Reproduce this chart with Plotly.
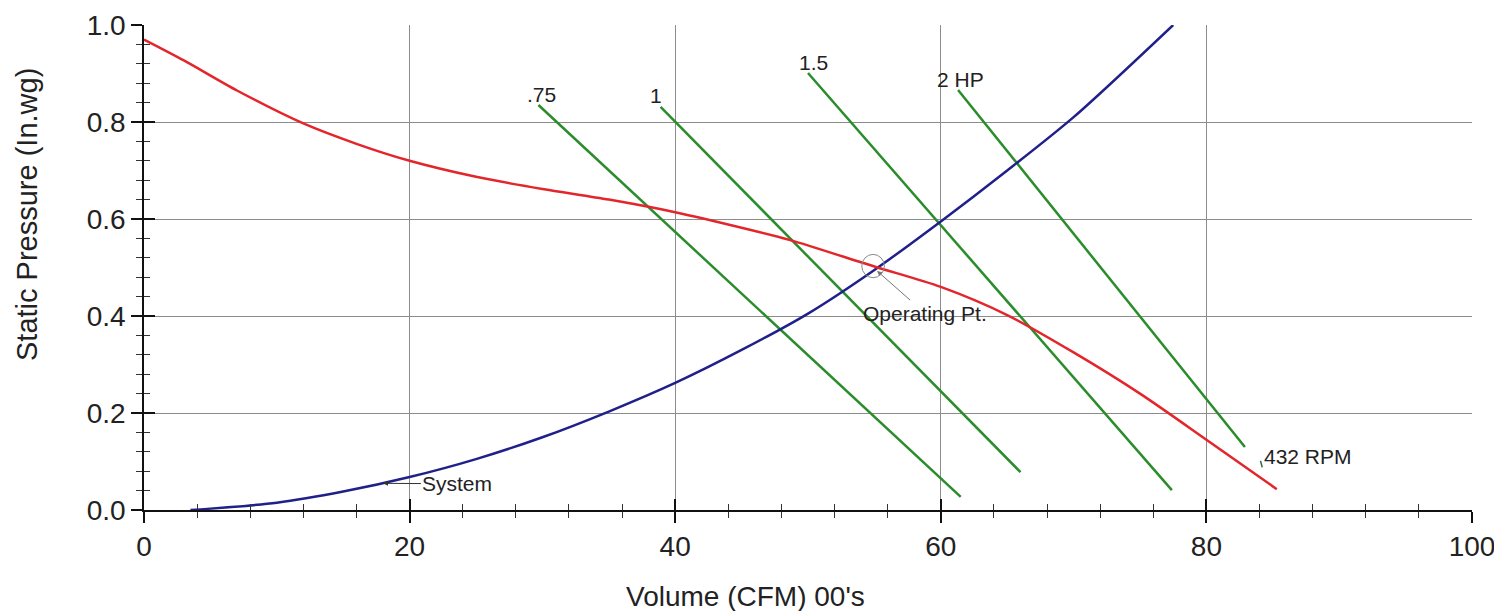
import plotly.graph_objects as go

# Fan curve (432 RPM)
fan_x = [0, 3, 7, 12, 16, 20, 25, 30, 35, 40, 45, 48.6, 55, 60, 65, 70, 75, 80, 85.3]
fan_y = [0.970, 0.927, 0.865, 0.797, 0.755, 0.720, 0.687, 0.662, 0.640, 0.614, 0.582, 0.557, 0.502, 0.460, 0.402, 0.325, 0.240, 0.145, 0.043]

# System curve
sys_x = [3.5, 10, 15, 20, 25, 30, 35, 40, 45, 50, 55, 60, 65, 70, 77.5]
sys_y = [0.0, 0.015, 0.038, 0.068, 0.105, 0.150, 0.203, 0.262, 0.330, 0.405, 0.495, 0.595, 0.700, 0.810, 1.0]

# Horsepower lines
hp_labels = [".75", "1", "1.5", "2 HP"]
hp_x0 = [29.7, 38.9, 50.0, 61.3]
hp_y0 = [0.835, 0.831, 0.901, 0.866]
hp_x1 = [61.5, 66.0, 77.4, 82.9]
hp_y1 = [0.027, 0.078, 0.041, 0.130]
hp_label_x = [29.9, 38.55, 50.45, 61.45]
hp_label_y = [0.856, 0.854, 0.922, 0.887]

op_x, op_y = 54.9, 0.503

x_ticks = [0, 20, 40, 60, 80, 100]
y_ticks = [0.0, 0.2, 0.4, 0.6, 0.8, 1.0]

RED = "#e3262b"
BLUE = "#20208a"
GREEN = "#2a8c2a"
FONT = "Liberation Sans, Arial, sans-serif"

fig = go.Figure()

for i in range(len(hp_labels)):
    fig.add_trace(go.Scatter(x=[hp_x0[i], hp_x1[i]], y=[hp_y0[i], hp_y1[i]],
                             mode="lines", line=dict(color=GREEN, width=2.5),
                             hoverinfo="skip", showlegend=False))

fig.add_trace(go.Scatter(x=sys_x, y=sys_y, mode="lines",
                         line=dict(color=BLUE, width=2.5, shape="spline", smoothing=0.8),
                         showlegend=False))
fig.add_trace(go.Scatter(x=fan_x, y=fan_y, mode="lines",
                         line=dict(color=RED, width=2.5, shape="spline", smoothing=0.8),
                         showlegend=False))

# invisible trace for overlay axes (inside ticks)
fig.add_trace(go.Scatter(x=[0], y=[0], xaxis="x2", yaxis="y2", mode="markers",
                         marker=dict(opacity=0), hoverinfo="skip", showlegend=False))

LBL = dict(size=21, color="#222", family=FONT)
annotations = []
for i in range(len(hp_labels)):
    annotations.append(dict(x=hp_label_x[i], y=hp_label_y[i], text=hp_labels[i],
                            showarrow=False, font=LBL))

annotations.append(dict(x=op_x + 0.3, y=op_y - 0.01, ax=58.8, ay=0.406, axref="x", ayref="y",
                        text="Operating Pt.", showarrow=True, arrowhead=2, arrowsize=1,
                        arrowwidth=1, arrowcolor="#777", font=LBL))
annotations.append(dict(x=18.0, y=0.055, ax=23.6, ay=0.054, axref="x", ayref="y",
                        text="System", showarrow=True, arrowhead=2, arrowsize=1,
                        arrowwidth=1, arrowcolor="#333", font=LBL))
annotations.append(dict(x=87.65, y=0.111, text="432 RPM", showarrow=False, font=LBL))
annotations.append(dict(x=84.2, y=0.088, ax=-2, ay=-8, text="", showarrow=True,
                        arrowhead=0, arrowwidth=1.5, arrowcolor="#2a6a3a"))

annotations.append(dict(x=(745 - 144) / 1328, y=(510 - 614) / 485, xref="paper", yref="paper",
                        text="Volume (CFM) 00's", showarrow=False,
                        font=dict(size=28, color="#222", family=FONT)))
annotations.append(dict(x=(9 - 144) / 1328, y=(510 - 215) / 485, xref="paper", yref="paper",
                        text="Static Pressure (In.wg)", showarrow=False, textangle=-90,
                        font=dict(size=29, color="#222", family=FONT)))

fig.update_layout(
    width=1494, height=603,
    margin=dict(l=136, r=30, t=17, b=101),
    paper_bgcolor="white", plot_bgcolor="white",
    font=dict(family=FONT, size=28, color="#222"),
    annotations=annotations,
    shapes=[dict(type="circle", xref="x", yref="y",
                 x0=op_x - 0.85, x1=op_x + 0.85, y0=op_y - 0.024, y1=op_y + 0.024,
                 line=dict(color="#888", width=1))],
    xaxis=dict(range=[0, 100], tickvals=x_ticks, ticktext=[str(v) for v in x_ticks],
               showgrid=True, gridcolor="#8c8c8c", gridwidth=1, zeroline=False,
               showline=True, linecolor="#111", linewidth=1.5, automargin=False,
               ticks="outside", ticklen=11, tickwidth=1.5, tickcolor="#111",
               minor=dict(dtick=4, ticks="outside", ticklen=6, tickwidth=1, tickcolor="#333", showgrid=False),
               tickfont=dict(size=28, color="#222")),
    yaxis=dict(range=[0, 1.0], tickvals=y_ticks, ticktext=["%.1f" % v for v in y_ticks],
               showgrid=True, gridcolor="#8c8c8c", gridwidth=1, zeroline=False,
               showline=True, linecolor="#111", linewidth=1.5, automargin=False,
               ticks="outside", ticklen=11, tickwidth=1.5, tickcolor="#111",
               minor=dict(dtick=0.04, ticks="outside", ticklen=6, tickwidth=1, tickcolor="#333", showgrid=False),
               tickfont=dict(size=28, color="#222")),
    xaxis2=dict(range=[0, 100], overlaying="x", anchor="y2", side="bottom", automargin=False,
                tickvals=x_ticks, showticklabels=False, showgrid=False, zeroline=False,
                showline=False, ticks="inside", ticklen=11, tickwidth=1.5, tickcolor="#111",
                minor=dict(dtick=4, ticks="inside", ticklen=6, tickwidth=1, tickcolor="#333")),
    yaxis2=dict(range=[0, 1.0], overlaying="y", anchor="x2", side="left", automargin=False,
                tickvals=y_ticks, showticklabels=False, showgrid=False, zeroline=False,
                showline=False, ticks="inside", ticklen=11, tickwidth=1.5, tickcolor="#111",
                minor=dict(dtick=0.04, ticks="inside", ticklen=6, tickwidth=1, tickcolor="#333")),
)

fig.write_html("out.html")
